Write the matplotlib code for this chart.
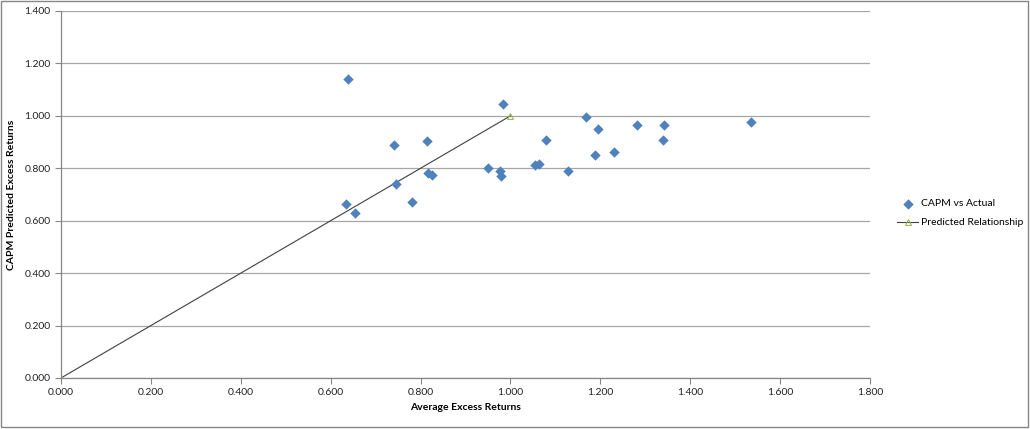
import matplotlib
matplotlib.use("Agg")
from matplotlib import pyplot as plt
from matplotlib.ticker import FormatStrFormatter, MultipleLocator
from matplotlib.patches import Rectangle

# CAPM predicted vs actual average excess returns
actual = [0.639, 0.634, 0.655, 0.741, 0.745, 0.782, 0.814, 0.816, 0.826,
          0.949, 0.977, 0.979, 0.983, 1.055, 1.064, 1.079, 1.128, 1.169,
          1.187, 1.194, 1.231, 1.281, 1.339, 1.342, 1.535]
predicted = [1.141, 0.663, 0.630, 0.890, 0.739, 0.671, 0.904, 0.783, 0.776,
             0.800, 0.790, 0.771, 1.045, 0.813, 0.816, 0.907, 0.788, 0.997,
             0.849, 0.950, 0.862, 0.965, 0.909, 0.965, 0.975]

line_x = [0.0, 1.0]
line_y = [0.0, 1.0]

plt.rcParams['font.family'] = ['Lato', 'DejaVu Sans']

fig = plt.figure(figsize=(10.3, 4.29), dpi=100)
ax = fig.add_axes([0.0592, 0.1189, 0.7855, 0.8555])

ax.scatter(actual, predicted, marker='D', s=28, color='#4F81BD', linewidths=0,
           zorder=3, label='CAPM vs Actual')
ax.plot(line_x, line_y, color='#404040', lw=0.8, marker='^', ms=5,
        markerfacecolor='none', markeredgecolor='#9BBB59', markeredgewidth=0.8,
        zorder=2, label='Predicted Relationship')

ax.set_xlim(0, 1.8)
ax.set_ylim(0, 1.4)
ax.xaxis.set_major_locator(MultipleLocator(0.2))
ax.yaxis.set_major_locator(MultipleLocator(0.2))
ax.xaxis.set_major_formatter(FormatStrFormatter('%.3f'))
ax.yaxis.set_major_formatter(FormatStrFormatter('%.3f'))
ax.grid(axis='y', color='#a6a6a6', lw=0.9)
ax.set_axisbelow(True)
for s in ['top', 'right']:
    ax.spines[s].set_visible(False)
for s in ['left', 'bottom']:
    ax.spines[s].set_color('#868686')
    ax.spines[s].set_linewidth(0.9)
ax.tick_params(which='both', direction='out', length=4, width=0.8,
               color='#868686', labelsize=7.5, labelcolor='#222222')

ax.set_xlabel('Average Excess Returns', fontsize=7.5, fontweight='bold', labelpad=4)
ax.set_ylabel('CAPM Predicted Excess Returns', fontsize=7.5, fontweight='bold', labelpad=6)

ax.legend(loc='center left', bbox_to_anchor=(0.862, 0.503), bbox_transform=fig.transFigure,
          frameon=False, fontsize=7.5, handlelength=2.0, labelspacing=0.95,
          handletextpad=0.3)

fig.patches.append(Rectangle((0.001, 0.004), 0.997, 0.993, transform=fig.transFigure,
                             fill=False, edgecolor='#868686', lw=1.0))

fig.savefig('out.png', dpi=100)
